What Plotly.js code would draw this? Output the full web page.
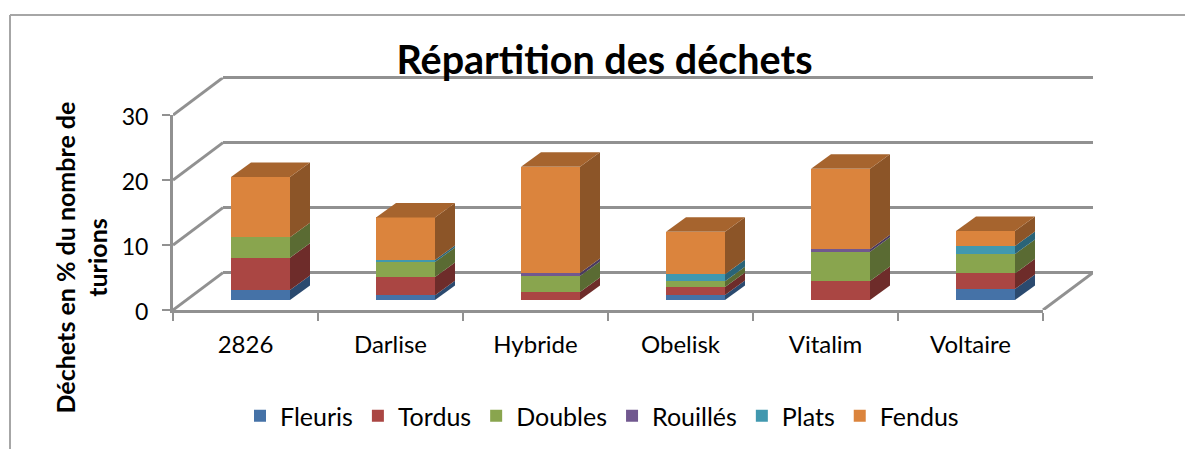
<!DOCTYPE html>
<html><head><meta charset="utf-8">
<script src="https://cdn.plot.ly/plotly-3.0.1.min.js"></script>
<style>html,body{margin:0;padding:0;background:#fff}#c{width:1185px;height:449px}</style>
</head><body><div id="c"></div>
<script>
const categories = ['2826','Darlise','Hybride','Obelisk','Vitalim','Voltaire'];
const fleuris  = [1.54,0.72,0,0.77,0,1.69];
const tordus   = [4.97,2.82,1.23,1.23,2.92,2.41];
const doubles  = [3.13,2.31,2.46,0.87,4.51,2.97];
const rouilles = [0,0,0.46,0,0.36,0];
const plats    = [0,0.3,0,1.08,0,1.23];
const fendus   = [9.28,6.56,16.36,6.56,12.41,2.31];
const seriesNames = ['Fleuris','Tordus','Doubles','Rouillés','Plats','Fendus'];
const seriesValues = [fleuris,tordus,doubles,rouilles,plats,fendus];
const frontColors = ['#4572A7','#AA4643','#89A54E','#71588F','#4198AF','#DB843D'];
const sideColors  = ['#2B4A6F','#6E2C2A','#5A6B33','#4A3A5F','#2A6478','#8C5528'];
const topColor = '#A6642E';
const yTicks = [0,10,20,30];

const W=1185,H=449;
const font='Lato, Carlito, sans-serif';
const gridC='#919191';
const fx=(a,b)=>[a/W,b/W];
const fy=(top,bot)=>[(H-bot)/H,(H-top)/H];
// geometry (pixels of the plot)
const pxPerCat=145, pxPerUnit=6.5;
const L=173,R=1043,T=115,B=310;
const backDx=50, backDy=37.4;
const barDx=15, barDy=10;
const barWidth=59/145;
const depthX=20/pxPerCat, depthY=14.5/pxPerUnit;
const xr=[-0.5,5.5], yr=[0,30];
const pad=2; // extra units on the back wall so the end gridlines are kept
const hidden={showgrid:false,zeroline:false,showticklabels:false,ticks:'',showline:false};

const traces=[];
// back wall (gridlines come from its axis) – subplot xy
traces.push({type:'scatter',x:[0],y:[0],mode:'none',showlegend:false,hoverinfo:'skip',xaxis:'x',yaxis:'y'});
// wall/floor edges – subplot x2y2, a scene spanning front to back
const sx=backDx/pxPerCat, sy=backDy/pxPerUnit;
yTicks.forEach(v=>traces.push({type:'scatter',mode:'lines',x:[xr[0],xr[0]+sx],y:[v,v+sy],
  line:{color:gridC,width:3},showlegend:false,hoverinfo:'skip',xaxis:'x2',yaxis:'y2'}));
traces.push({type:'scatter',mode:'lines',x:[xr[1],xr[1]+sx],y:[0,sy],
  line:{color:gridC,width:3},showlegend:false,hoverinfo:'skip',xaxis:'x2',yaxis:'y2'});
// front axes – subplot x3y3
traces.push({type:'scatter',x:[0],y:[0],mode:'none',showlegend:false,hoverinfo:'skip',xaxis:'x3',yaxis:'y3'});
// bars – subplot x4y4
const idx=categories.map((c,i)=>i);
seriesNames.forEach((n,s)=>traces.push({type:'bar',name:n,x:idx,y:seriesValues[s],width:barWidth,
  marker:{color:frontColors[s],line:{width:0}},xaxis:'x4',yaxis:'y4',hovertemplate:n+': %{y}<extra></extra>'}));
// side and top faces, computed from the same values
categories.forEach((c,i)=>{
  let cum=0; const xe=i+barWidth/2;
  seriesValues.forEach((vals,s)=>{
    const v=vals[i]; if(!v) return;
    traces.push({type:'scatter',mode:'lines',fill:'toself',fillcolor:sideColors[s],
      line:{width:0,color:sideColors[s]},showlegend:false,hoverinfo:'skip',xaxis:'x4',yaxis:'y4',
      x:[xe,xe+depthX,xe+depthX,xe,xe],y:[cum,cum+depthY,cum+v+depthY,cum+v,cum]});
    cum+=v;
  });
  const xs=i-barWidth/2;
  traces.push({type:'scatter',mode:'lines',fill:'toself',fillcolor:topColor,line:{width:0,color:topColor},
    showlegend:false,hoverinfo:'skip',xaxis:'x4',yaxis:'y4',
    x:[xs,xe,xe+depthX,xs+depthX,xs],y:[cum,cum,cum+depthY,cum+depthY,cum]});
});

const layout={
  width:W,height:H,margin:{l:0,r:0,t:0,b:0},paper_bgcolor:'#fff',plot_bgcolor:'rgba(0,0,0,0)',
  font:{family:font,color:'#000'},barmode:'stack',showlegend:true,hovermode:'closest',
  title:{text:'<b>Répartition des déchets</b>',font:{family:font,size:39.5,color:'#000'},
    x:604.5/W,xanchor:'center',y:1-60/H,yanchor:'middle'},
  legend:{orientation:'h',traceorder:'normal',x:240/W,xanchor:'left',y:1-416/H,yanchor:'middle',
    font:{family:font,size:25,color:'#000'},bgcolor:'rgba(0,0,0,0)',itemclick:false,itemdoubleclick:false},
  // back wall
  xaxis:{...hidden,domain:fx(L+backDx,R+backDx),range:xr,anchor:'y'},
  yaxis:{...hidden,domain:fy(T-backDy-pad*pxPerUnit,B-backDy+pad*pxPerUnit),range:[yr[0]-pad,yr[1]+pad],anchor:'x',
    showgrid:true,gridcolor:gridC,gridwidth:3,tickmode:'array',tickvals:yTicks},
  // scene for wall edges
  xaxis2:{...hidden,domain:fx(L,R+backDx),range:[xr[0],xr[1]+sx],anchor:'y2'},
  yaxis2:{...hidden,domain:fy(T-backDy,B),range:[yr[0],yr[1]+sy],anchor:'x2'},
  // front axes
  xaxis3:{domain:fx(L,R),range:xr,anchor:'y3',showgrid:false,zeroline:false,showline:true,linecolor:gridC,linewidth:3,
    tickmode:'array',tickvals:idx,ticktext:categories,ticks:'',tickfont:{family:font,size:24,color:'#000'},ticklabelstandoff:11,
    minor:{tickmode:'array',tickvals:[-0.5,0.5,1.5,2.5,3.5,4.5,5.5],ticks:'outside',ticklen:8,tickwidth:2,tickcolor:gridC,showgrid:false}},
  yaxis3:{domain:fy(T,B),range:yr,anchor:'x3',showgrid:false,zeroline:false,showline:true,linecolor:gridC,linewidth:3,
    tickmode:'array',tickvals:yTicks,ticks:'outside',ticklen:8,tickwidth:2,tickcolor:gridC,
    tickfont:{family:font,size:23,color:'#000'},ticklabelstandoff:9,ticklabelshift:2},
  // bars
  xaxis4:{...hidden,domain:fx(L+barDx,R+barDx),range:xr,anchor:'y4'},
  yaxis4:{...hidden,domain:fy(T-barDy,B-barDy),range:yr,anchor:'x4'},
  annotations:[{text:'<b>Déchets en % du nombre de<br>turions</b>',xref:'paper',yref:'paper',x:80.5/W,y:1-258/H,
    xanchor:'center',yanchor:'middle',textangle:-90,showarrow:false,align:'center',font:{family:font,size:25,color:'#000'}}],
  shapes:[
    {type:'line',xref:'paper',yref:'paper',x0:10/W,x1:10/W,y0:0,y1:1-15/H,line:{color:'#A6A6A6',width:2}},
    {type:'line',xref:'paper',yref:'paper',x0:10/W,x1:1,y0:1-15/H,y1:1-15/H,line:{color:'#A6A6A6',width:2}}
  ]
};
Plotly.newPlot('c',traces,layout,{displayModeBar:false,responsive:false});
</script></body></html>
